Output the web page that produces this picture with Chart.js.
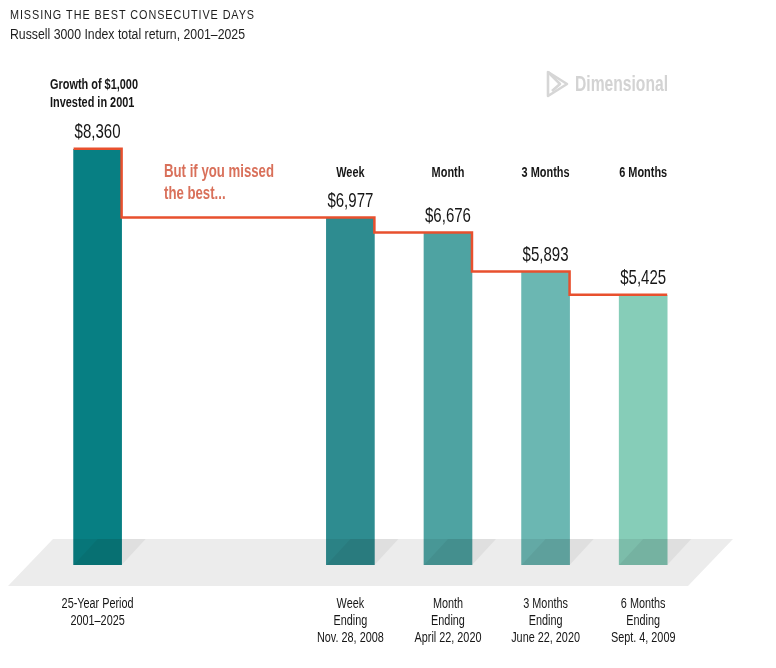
<!DOCTYPE html>
<html>
<head>
<meta charset="utf-8">
<script src="https://cdn.jsdelivr.net/npm/chart.js@4.4.1/dist/chart.umd.min.js"></script>
<style>
  html, body { margin: 0; padding: 0; background: #ffffff; }
  #wrap { position: relative; width: 776px; height: 668px; }
</style>
</head>
<body>
<div id="wrap"><canvas id="c"></canvas></div>
<script>
// ---------------- DATA ----------------
const categories = ['25-Year Period', 'Week', 'Month', '3 Months', '6 Months'];
const values = [8360, 6977, 6676, 5893, 5425];
const headerLabels = [['Growth of $1,000', 'Invested in 2001'], ['Week'], ['Month'], ['3 Months'], ['6 Months']];
const bottomLabels = [
  ['25-Year Period', '2001–2025'],
  ['Week', 'Ending', 'Nov. 28, 2008'],
  ['Month', 'Ending', 'April 22, 2020'],
  ['3 Months', 'Ending', 'June 22, 2020'],
  ['6 Months', 'Ending', 'Sept. 4, 2009']
];
const titleText = 'MISSING THE BEST CONSECUTIVE DAYS';
const subtitleText = 'Russell 3000 Index total return, 2001–2025';
const calloutLines = ['But if you missed', 'the best...'];
const logoText = 'Dimensional';

// ---------------- STYLE / LAYOUT ----------------
const barColors = ['#077f83', '#2e8c90', '#4ea3a2', '#6bb7b2', '#86cdb8'];
const GAP = 1.59; // extra slot space between first bar and the rest
const FAM = '"Liberation Sans", Arial, sans-serif';
const TEXT = '#161616';
const LINE_RED = '#e8502e';
const CALLOUT = '#d9705a';

const fmt = v => '$' + v.toLocaleString('en-US');
const slotOf = i => (i === 0 ? 0 : i + GAP);

// text styles: font + horizontal condensing computed from a reference string/width
const styles = {
  title:   { font: '13px ' + FAM, ref: titleText, w: 245, spacing: 1.1, color: '#1e1e1e' },
  sub:     { font: '15.5px ' + FAM, ref: subtitleText, w: 235, color: '#1e1e1e' },
  boldSm:  { font: 'bold 14px ' + FAM, ref: 'Growth of $1,000', w: 88, color: TEXT },
  regSm:   { font: '14px ' + FAM, ref: '25-Year Period', w: 72, color: TEXT },
  value:   { font: '21px ' + FAM, ref: '$6,977', w: 46, color: TEXT },
  callout: { font: 'bold 18px ' + FAM, ref: 'But if you missed', w: 110, color: CALLOUT },
  logo:    { font: 'bold 22px ' + FAM, ref: logoText, w: 93, color: '#d3d3d3' }
};
let scalesReady = false;
function prepStyles(ctx) {
  if (scalesReady) return;
  Object.values(styles).forEach(st => {
    ctx.save();
    ctx.font = st.font;
    if ('letterSpacing' in ctx) ctx.letterSpacing = (st.spacing || 0) + 'px';
    st.sx = st.w / ctx.measureText(st.ref).width;
    ctx.restore();
  });
  scalesReady = true;
}

function txt(ctx, s, x, y, st, align) {
  ctx.save();
  ctx.font = st.font;
  ctx.fillStyle = st.color;
  ctx.textAlign = align || 'left';
  ctx.textBaseline = 'middle';
  if ('letterSpacing' in ctx) ctx.letterSpacing = (st.spacing || 0) + 'px';
  ctx.translate(x, y);
  ctx.scale(st.sx, 1);
  ctx.fillText(s, 0, 0);
  ctx.restore();
}

const floorPlugin = {
  id: 'floorAndStep',
  afterDatasetsDraw(chart) {
    const ctx = chart.ctx;
    const yS = chart.scales.y;
    const base = yS.getPixelForValue(0);
    const fTop = base - 26, fBot = base + 21;
    const slant = fBot - fTop;
    const bars = chart.getDatasetMeta(0).data;
    ctx.save();
    ctx.globalCompositeOperation = 'multiply';
    ctx.fillStyle = '#ececec';
    ctx.beginPath();
    ctx.moveTo(8, fBot);
    ctx.lineTo(8 + slant - 2, fTop);
    ctx.lineTo(733, fTop);
    ctx.lineTo(733 - slant + 2, fBot);
    ctx.closePath();
    ctx.fill();
    ctx.fillStyle = '#f1f1f1';
    const s = base - fTop - 2;
    bars.forEach(b => {
      const l = b.x - b.width / 2, r = b.x + b.width / 2;
      ctx.beginPath();
      ctx.moveTo(l, base);
      ctx.lineTo(r, base);
      ctx.lineTo(r + s, fTop);
      ctx.lineTo(l + s, fTop);
      ctx.closePath();
      ctx.fill();
    });
    ctx.restore();

    ctx.save();
    ctx.strokeStyle = LINE_RED;
    ctx.lineWidth = 2.5;
    ctx.beginPath();
    bars.forEach((b, i) => {
      const l = b.x - b.width / 2, r = b.x + b.width / 2;
      const yy = b.y - 0.5;
      if (i === 0) ctx.moveTo(l, yy);
      else ctx.lineTo(bars[i - 1].x + bars[i - 1].width / 2, yy);
      ctx.lineTo(r, yy);
    });
    ctx.stroke();
    ctx.restore();
  },
  afterDraw(chart) {
    const ctx = chart.ctx;
    prepStyles(ctx);
    const bars = chart.getDatasetMeta(0).data;
    const base = chart.scales.y.getPixelForValue(0);

    txt(ctx, titleText, 10, 15, styles.title, 'left');
    txt(ctx, subtitleText, 10, 35, styles.sub, 'left');

    // logo mark
    ctx.save();
    ctx.strokeStyle = '#d6d6d6';
    ctx.lineWidth = 2.6;
    ctx.lineJoin = 'round';
    ctx.beginPath();
    ctx.moveTo(548, 72); ctx.lineTo(548, 96); ctx.lineTo(567, 84); ctx.closePath();
    ctx.stroke();
    ctx.beginPath();
    ctx.moveTo(548, 72); ctx.lineTo(560, 84); ctx.lineTo(552, 91);
    ctx.stroke();
    ctx.restore();
    txt(ctx, logoText, 575, 85, styles.logo, 'left');

    txt(ctx, calloutLines[0], 164, 172, styles.callout, 'left');
    txt(ctx, calloutLines[1], 164, 194, styles.callout, 'left');

    bars.forEach((b, i) => {
      if (i === 0) {
        txt(ctx, headerLabels[0][0], 50, 85.5, styles.boldSm, 'left');
        txt(ctx, headerLabels[0][1], 50, 103.5, styles.boldSm, 'left');
      } else {
        txt(ctx, headerLabels[i][0], b.x, 173, styles.boldSm, 'center');
      }
      txt(ctx, fmt(values[i]), b.x, b.y - 17, styles.value, 'center');
      bottomLabels[i].forEach((line, k) => {
        txt(ctx, line, b.x, base + 39.5 + k * 16.8, styles.regSm, 'center');
      });
    });
  }
};

new Chart(document.getElementById('c'), {
  type: 'bar',
  data: {
    labels: categories,
    datasets: [{
      label: 'Growth of $1,000',
      data: values.map((v, i) => ({ x: slotOf(i), y: v })),
      backgroundColor: barColors,
      borderWidth: 0,
      barThickness: 48
    }]
  },
  options: {
    responsive: true,
    maintainAspectRatio: false,
    animation: false,
    layout: { padding: { left: 0, right: 44, top: 18, bottom: 103 } },
    scales: {
      x: { type: 'linear', min: -1, max: 6.5, offset: false, display: false, grid: { offset: false } },
      y: { min: 0, max: 11000, display: false }
    },
    plugins: { legend: { display: false }, tooltip: { enabled: false } }
  },
  plugins: [floorPlugin]
});
</script>
</body>
</html>
